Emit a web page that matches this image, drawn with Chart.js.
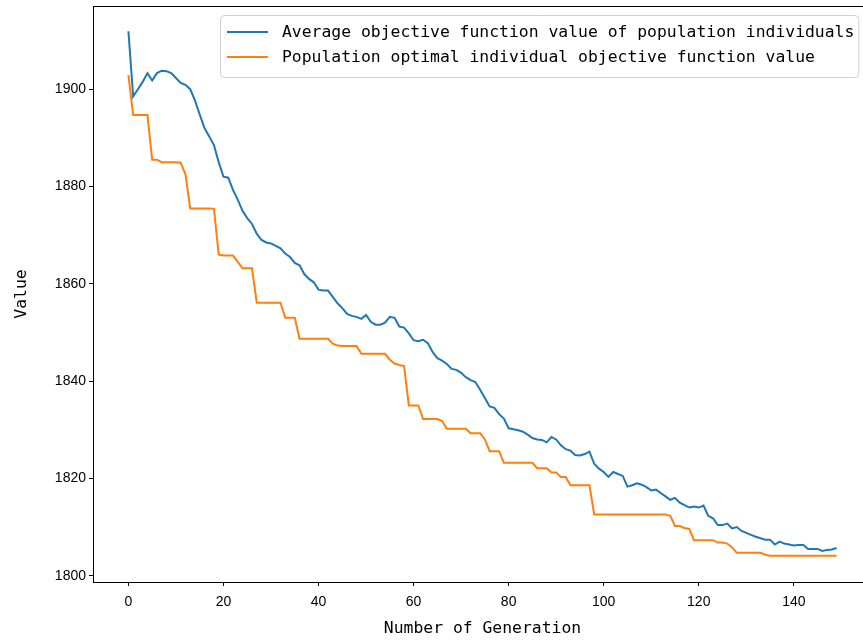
<!DOCTYPE html>
<html>
<head>
<meta charset="utf-8">
<script src="https://cdn.jsdelivr.net/npm/chart.js@4/dist/chart.umd.min.js"></script>
<style>
    html, body { margin: 0; padding: 0; background: #ffffff; overflow: hidden; }
    #wrap { width: 880px; height: 643px; }
</style>
</head>
<body>
<div id="wrap"><canvas id="ga_chart" width="880" height="643"></canvas></div>
<script>
// values, one per generation (0..149)
var avgValues = [
    1911.9, 1898.5, 1900.0, 1901.5, 1903.3, 1901.8, 1903.3, 1903.8, 1903.7, 1903.3,
    1902.3, 1901.3, 1900.9, 1900.0, 1897.7, 1894.8, 1892.0, 1890.3, 1888.5, 1885.0,
    1882.0, 1881.8, 1879.3, 1877.3, 1875.0, 1873.5, 1872.3, 1870.3, 1869.0, 1868.5,
    1868.3, 1867.8, 1867.3, 1866.2, 1865.5, 1864.3, 1863.8, 1862.0, 1861.0, 1860.3,
    1858.8, 1858.6, 1858.6, 1857.3, 1856.0, 1855.0, 1853.8, 1853.4, 1853.2, 1852.8,
    1853.6, 1852.2, 1851.6, 1851.6, 1852.0, 1853.2, 1853.0, 1851.2, 1851.0, 1849.8,
    1848.4, 1848.2, 1848.5, 1847.8, 1846.0, 1844.7, 1844.2, 1843.5, 1842.5, 1842.3,
    1841.7, 1840.8, 1840.2, 1839.8, 1838.2, 1836.5, 1834.8, 1834.5, 1833.2, 1832.3,
    1830.3, 1830.1, 1829.9, 1829.6, 1829.0, 1828.3, 1828.0, 1827.9, 1827.4, 1828.5,
    1828.0, 1826.8, 1826.0, 1825.7, 1824.8, 1824.7, 1825.0, 1825.5, 1823.0, 1822.0,
    1821.3, 1820.3, 1821.3, 1820.9, 1820.5, 1818.3, 1818.6, 1819.0, 1818.7, 1818.2,
    1817.5, 1817.7, 1817.0, 1816.3, 1815.6, 1816.0, 1815.0, 1814.5, 1814.0, 1814.2,
    1814.0, 1814.4, 1812.3, 1811.8, 1810.4, 1810.4, 1810.7, 1809.7, 1810.0, 1809.2,
    1808.8, 1808.4, 1808.0, 1807.7, 1807.4, 1807.4, 1806.4, 1807.0, 1806.6, 1806.4,
    1806.2, 1806.3, 1806.3, 1805.5, 1805.5, 1805.5, 1805.1, 1805.3, 1805.4, 1805.7
];
var bestValues = [
    1902.9, 1894.7, 1894.7, 1894.7, 1894.7, 1885.5, 1885.5, 1885.0, 1885.0, 1885.0,
    1885.0, 1884.9, 1882.5, 1875.5, 1875.5, 1875.5, 1875.5, 1875.5, 1875.4, 1866.0,
    1865.8, 1865.8, 1865.8, 1864.5, 1863.2, 1863.2, 1863.2, 1856.1, 1856.1, 1856.1,
    1856.1, 1856.1, 1856.1, 1853.0, 1853.0, 1853.0, 1848.7, 1848.7, 1848.7, 1848.7,
    1848.7, 1848.7, 1848.7, 1847.7, 1847.3, 1847.2, 1847.2, 1847.2, 1847.2, 1845.6,
    1845.6, 1845.6, 1845.6, 1845.6, 1845.6, 1844.4, 1843.6, 1843.3, 1843.1, 1835.0,
    1835.0, 1835.0, 1832.2, 1832.2, 1832.2, 1832.2, 1831.8, 1830.2, 1830.2, 1830.2,
    1830.2, 1830.2, 1829.3, 1829.3, 1829.3, 1828.0, 1825.6, 1825.6, 1825.6, 1823.2,
    1823.2, 1823.2, 1823.2, 1823.2, 1823.2, 1823.2, 1822.1, 1822.1, 1822.1, 1821.2,
    1821.2, 1820.3, 1820.3, 1818.6, 1818.6, 1818.6, 1818.6, 1818.6, 1812.6, 1812.6,
    1812.6, 1812.6, 1812.6, 1812.6, 1812.6, 1812.6, 1812.6, 1812.6, 1812.6, 1812.6,
    1812.6, 1812.6, 1812.6, 1812.6, 1812.3, 1810.2, 1810.2, 1809.8, 1809.6, 1807.3,
    1807.3, 1807.3, 1807.3, 1807.3, 1806.8, 1806.8, 1806.6, 1805.8, 1804.7, 1804.7,
    1804.7, 1804.7, 1804.7, 1804.7, 1804.3, 1804.1, 1804.1, 1804.1, 1804.1, 1804.1,
    1804.1, 1804.1, 1804.1, 1804.1, 1804.1, 1804.1, 1804.1, 1804.1, 1804.1, 1804.1
];
var seriesNames = [
    "Average objective function value of population individuals",
    "Population optimal individual objective function value"
];
var seriesColors = ["#1f77b4", "#ff7f0e"];
var xTicks = [0, 20, 40, 60, 80, 100, 120, 140];
var yTicks = [1800, 1820, 1840, 1860, 1880, 1900];

var monoFont = "'DejaVu Sans Mono', 'Liberation Mono', monospace";
var tickFont = "'Liberation Sans', Arial, sans-serif";

function toPoints(values) {
    var pts = [];
    for (var i = 0; i < values.length; i++) {
        pts.push({ x: i, y: values[i] });
    }
    return pts;
}

// black box around the plot, like matplotlib spines
var framePlugin = {
    id: "frame",
    afterDatasetsDraw: function (chart) {
        var a = chart.chartArea;
        var ctx = chart.ctx;
        ctx.save();
        ctx.strokeStyle = "#000000";
        ctx.lineWidth = 1;
        ctx.strokeRect(Math.round(a.left) + 0.5, Math.round(a.top) + 0.5,
            Math.round(a.right - a.left), Math.round(a.bottom - a.top));
        ctx.restore();
    }
};

// legend box in the upper right corner
var legendPlugin = {
    id: "boxLegend",
    afterDraw: function (chart) {
        var ctx = chart.ctx;
        var boxX = 220, boxY = 15, rowY = [32, 57];
        var textX = 282;
        ctx.save();
        ctx.font = "16.4px " + monoFont;
        var maxW = 0;
        chart.data.datasets.forEach(function (ds) {
            maxW = Math.max(maxW, ctx.measureText(ds.label).width);
        });
        var boxW = textX + maxW + 4 - boxX;
        var boxH = 62;
        ctx.beginPath();
        ctx.roundRect(boxX + 0.5, boxY + 0.5, boxW, boxH, 4);
        ctx.fillStyle = "rgba(255,255,255,0.8)";
        ctx.fill();
        ctx.strokeStyle = "#d0d0d0";
        ctx.lineWidth = 1;
        ctx.stroke();
        chart.data.datasets.forEach(function (ds, i) {
            ctx.beginPath();
            ctx.moveTo(227, rowY[i]);
            ctx.lineTo(268, rowY[i]);
            ctx.strokeStyle = ds.borderColor;
            ctx.lineWidth = 2;
            ctx.stroke();
            ctx.fillStyle = "#000000";
            ctx.textBaseline = "middle";
            ctx.fillText(ds.label, textX, rowY[i] + 1);
        });
        ctx.restore();
    }
};

var canvas = document.getElementById("ga_chart");

var data = {
    datasets: [{
        label: seriesNames[0],
        data: toPoints(avgValues),
        borderColor: seriesColors[0],
        backgroundColor: seriesColors[0],
        borderWidth: 2,
        pointRadius: 0,
        tension: 0
    }, {
        label: seriesNames[1],
        data: toPoints(bestValues),
        borderColor: seriesColors[1],
        backgroundColor: seriesColors[1],
        borderWidth: 2,
        pointRadius: 0,
        tension: 0
    }]
};

var options = {
    responsive: false,
    animation: false,
    layout: {
        padding: { left: 0, right: 8, top: 6, bottom: 0 }
    },
    plugins: {
        legend: { display: false },
        tooltip: { enabled: false }
    },
    scales: {
        x: {
            type: "linear",
            min: -7.45,
            max: 156.45,
            afterBuildTicks: function (scale) {
                scale.ticks = xTicks.map(function (v) { return { value: v }; });
            },
            afterFit: function (scale) {
                scale.height = 61;
                scale.paddingLeft = 0;
                scale.paddingRight = 0;
            },
            grid: {
                drawOnChartArea: false,
                drawTicks: true,
                tickLength: 4,
                tickColor: "#000000"
            },
            border: { display: false },
            ticks: {
                color: "#000000",
                padding: 8,
                maxRotation: 0,
                callback: function (v) { return String(v); },
                font: { family: tickFont, size: 14 }
            },
            title: {
                display: true,
                text: "Number of Generation",
                color: "#000000",
                padding: { top: 0, bottom: 4 },
                font: { family: monoFont, size: 16.4 }
            }
        },
        y: {
            type: "linear",
            min: 1798.7,
            max: 1917.1,
            afterBuildTicks: function (scale) {
                scale.ticks = yTicks.map(function (v) { return { value: v }; });
            },
            afterFit: function (scale) {
                scale.width = 93;
                scale.paddingTop = 0;
                scale.paddingBottom = 0;
            },
            grid: {
                drawOnChartArea: false,
                drawTicks: true,
                tickLength: 4,
                tickColor: "#000000"
            },
            border: { display: false },
            ticks: {
                color: "#000000",
                padding: 3,
                callback: function (v) { return String(v); },
                font: { family: tickFont, size: 14 }
            },
            title: {
                display: true,
                text: "Value",
                color: "#000000",
                padding: { top: 12, bottom: 0 },
                font: { family: monoFont, size: 16.4 }
            }
        }
    }
};

var chart = new Chart(canvas, {
    type: "line",
    data: data,
    options: options,
    plugins: [framePlugin, legendPlugin]
});
</script>
</body>
</html>
